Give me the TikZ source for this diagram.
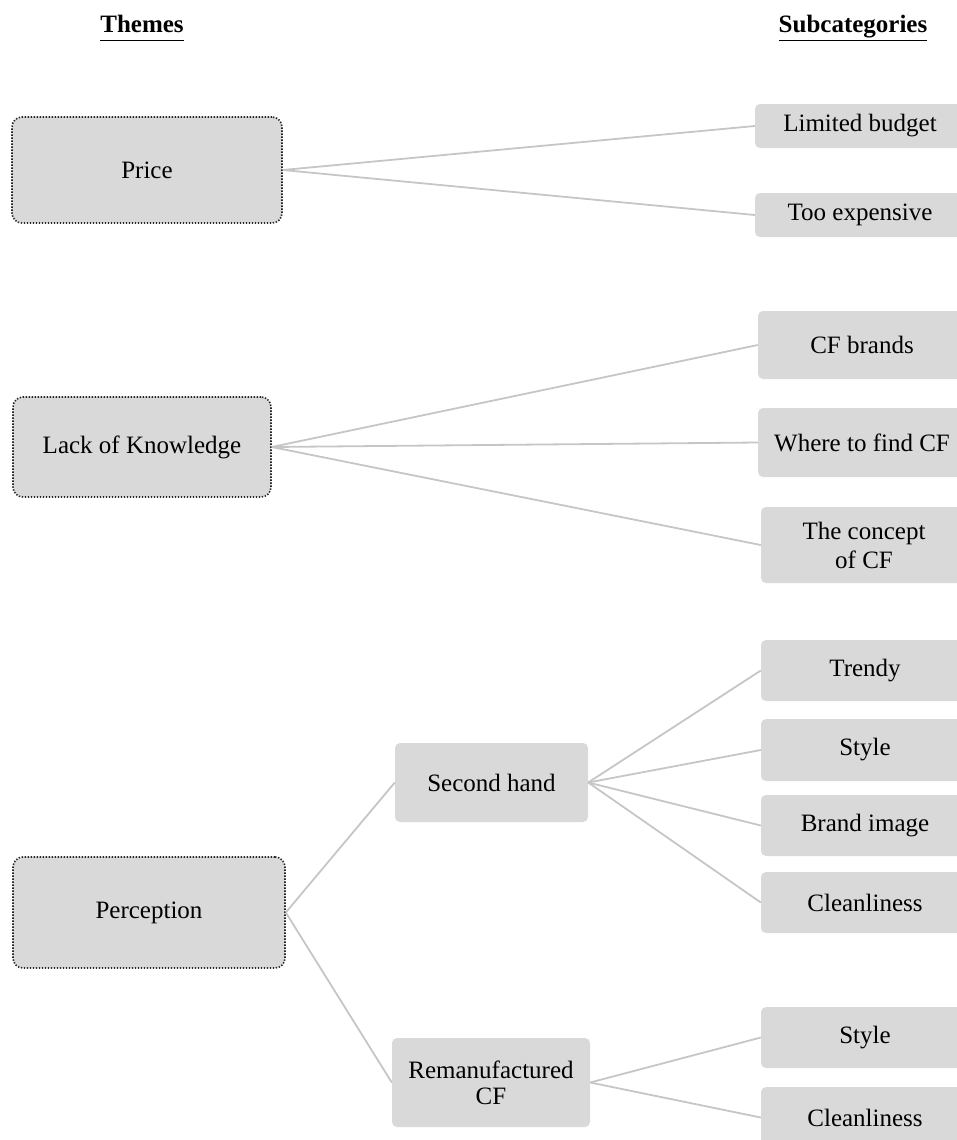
\documentclass[tikz,border=0pt]{standalone}
\usepackage{fontspec}
\setmainfont{Liberation Serif}
\begin{document}
\begin{tikzpicture}[x=1pt,y=-1pt,
  every node/.style={font=\fontsize{25}{29}\selectfont, inner sep=0pt, align=center},
  theme/.style={draw=black!85, line width=1.6pt, dash pattern=on 1.4pt off 1.6pt, fill=boxgray, rounded corners=10pt},
  sub/.style={fill=boxgray, rounded corners=5pt},
  head/.style={font=\fontsize{25}{29}\selectfont\bfseries, anchor=base},
  link/.style={draw=linegray, line width=1.8pt}]
\definecolor{boxgray}{HTML}{D9D9D9}
\definecolor{linegray}{HTML}{C6C6C6}
\useasboundingbox (0,0) rectangle (957,1140);
\clip (0,0) rectangle (957,1140);

% headers
\node[head] (hthemes) at (142,33) {\underline{\vphantom{g}Themes}};
\node[head] (hsub) at (853,33) {\underline{Subcategories}};

% themes
\node[theme, minimum width=270pt, minimum height=106pt] (price) at (147,170) {Price};
\node[theme, minimum width=258pt, minimum height=100pt] (lok) at (142,447) {Lack of Knowledge};
\node[theme, minimum width=272pt, minimum height=111pt] (perc) at (149,912.5) {Perception};

% middle
\node[sub, minimum width=193pt, minimum height=79pt] (sh) at (491.5,782.5) {Second hand};
\node[sub, minimum width=198pt, minimum height=89pt] (rem) at (491,1082.5) {Remanufactured\\[-3pt]CF};

% subcategories
\node[sub, minimum width=210pt, minimum height=44pt] (lb) at (860,126) {Limited budget};
\node[sub, minimum width=210pt, minimum height=44pt] (te) at (860,215) {Too expensive};
\node[sub, minimum width=208pt, minimum height=68pt] (cfb) at (862,345) {CF brands};
\node[sub, minimum width=208pt, minimum height=69pt] (wh) at (862,442.5) {Where to find CF};
\node[sub, minimum width=206pt, minimum height=76pt] (con) at (864,545) {The concept\\of CF};
\node[sub, minimum width=208pt, minimum height=61pt] (tr) at (865,670.5) {Trendy};
\node[sub, minimum width=208pt, minimum height=62pt] (st) at (865,750) {Style};
\node[sub, minimum width=208pt, minimum height=61pt] (bi) at (865,825.5) {Brand image};
\node[sub, minimum width=208pt, minimum height=61pt] (cl) at (865,902.5) {Cleanliness};
\node[sub, minimum width=208pt, minimum height=61pt] (st2) at (865,1037.5) {Style};
\node[sub, minimum width=208pt, minimum height=61pt] (cl2) at (865,1117.5) {Cleanliness};

% connectors
\foreach \a/\b in {price/lb, price/te, lok/cfb, lok/wh, lok/con, perc/sh, perc/rem, sh/tr, sh/st, sh/bi, sh/cl, rem/st2, rem/cl2}
  \draw[link] (\a.east) -- (\b.west);
\end{tikzpicture}
\end{document}
